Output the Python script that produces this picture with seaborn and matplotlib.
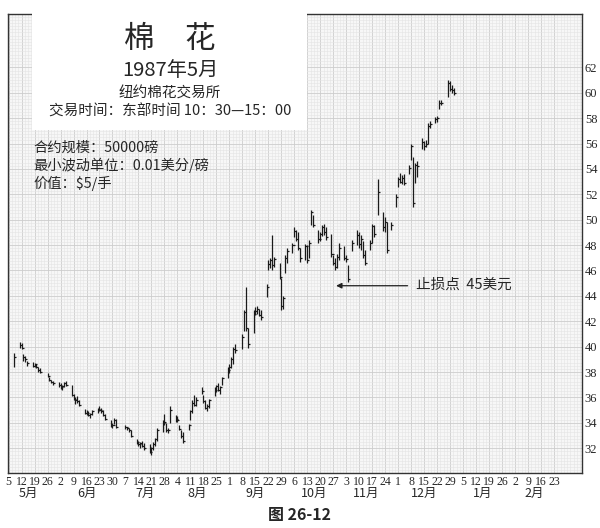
import numpy as np
import pandas as pd
import matplotlib
matplotlib.use("Agg")
import matplotlib.pyplot as plt
from matplotlib.patches import Rectangle
from matplotlib.ticker import MultipleLocator
import seaborn as sns

nan = np.nan

# daily high / low / close, one value per business day from 1987-05-05 to 1987-12-31
high = [
    # May
    nan, nan, nan, 39.5, 40.4, 40.3, 39.4, 39.3, 38.9, 38.8, 38.7, 38.6, 38.4, 38.3, nan, 37.9, 37.6, 37.4, 37.3,
    # June
    37.2, 37.1, 37.0, 37.2, 37.3, 37.0, 36.3, 36.0, 36.1, 35.8, 35.1, 35.0, 34.9, 34.8, 35.0, 35.2, 35.3, 35.2, 35.0, 34.7, 34.2, 34.0,
    # July
    34.4, 34.3, nan, nan, 33.8, 33.7, 33.6, 33.4, 32.7, 32.6, 32.5, 32.6, 32.4, 32.3, 32.1, 32.5, 32.8, 33.6, 34.2, 34.7, 34.0, 33.6, 35.3,
    # August
    34.6, 34.5, 33.8, 33.4, 33.3, 33.9, 35.0, 35.8, 36.2, 36.0, 36.8, 36.2, 35.8, 35.5, 35.9, 36.8, 37.0, 37.1, 36.9, 37.6, 38.4,
    # September
    38.6, 39.2, 40.0, 40.2, nan, 41.0, 42.9, 44.7, 41.5, 42.9, 43.1, 43.2, 43.0, 42.9, 44.9, 46.8, 47.0, 48.8, 47.1, 46.6, 45.4, 44.0,
    # October
    47.2, 47.8, 48.2, 49.4, 49.2, 49.0, 47.8, 48.1, 48.0, 48.4, 50.8, 50.4, 49.2, 49.0, 49.6, 49.7, 49.4, 48.9, 47.2, 47.0, 47.3, 48.2,
    # November
    47.9, 47.2, 46.4, nan, 48.4, 49.2, 49.0, 48.8, 48.3, 47.6, 48.4, 49.7, 49.6, nan, 53.2, 50.6, 50.2, 49.8, nan, 49.8, 52.0,
    # December
    53.4, 53.7, 53.5, 53.6, 54.3, 56.0, 54.9, 54.5, 54.6, 56.4, 56.2, 56.3, 57.6, 57.8, 58.1, 58.2, 59.4, 59.4, nan, 61.0, 60.9, 60.6, 60.4,
]
low = [
    nan, nan, nan, 38.4, 39.9, 39.8, 38.9, 38.8, 38.5, 38.4, 38.4, 38.3, 38.0, 37.9, nan, 37.6, 37.3, 37.1, 37.0,
    36.8, 36.7, 36.6, 36.8, 36.9, 36.1, 35.8, 35.5, 35.6, 35.3, 34.7, 34.6, 34.5, 34.4, 34.6, 34.8, 34.9, 34.8, 34.5, 34.2, 33.7, 33.6,
    33.9, 33.6, nan, nan, 33.5, 33.4, 33.3, 32.9, 32.3, 32.2, 32.0, 32.1, 31.9, 31.6, 31.5, 31.9, 32.2, 32.6, 33.3, 33.8, 33.3, 33.2, 34.0,
    34.1, 34.1, 33.4, 32.8, 32.4, 33.4, 34.2, 34.8, 35.3, 35.3, 36.3, 35.6, 35.1, 34.9, 35.2, 36.1, 36.4, 36.5, 36.3, 37.0, 37.5,
    37.9, 38.3, 38.6, 39.5, nan, 39.8, 41.2, 41.2, 39.9, 41.1, 42.5, 42.6, 42.4, 42.1, 43.9, 46.0, 46.2, 46.0, 46.3, 45.3, 42.9, 43.0,
    45.8, 46.6, 47.4, 48.6, 48.3, 47.6, 46.7, 46.8, 46.6, 47.0, 49.6, 49.4, 48.2, 48.3, 48.7, 48.8, 48.4, 47.1, 46.4, 46.0, 46.2, 46.8,
    46.8, 46.7, 45.1, nan, 47.5, 48.0, 47.8, 47.6, 47.0, 46.4, 47.6, 48.2, 48.6, nan, 50.4, 49.1, 49.0, 47.4, nan, 49.2, 51.0,
    52.6, 52.9, 52.8, 52.7, 53.6, 54.7, 51.0, 52.9, 53.4, 55.6, 55.5, 55.7, 56.0, 57.2, 57.6, 57.7, 58.7, 59.0, nan, 59.7, 60.1, 60.0, 59.8,
]
close = [
    nan, nan, nan, 39.2, 40.1, 39.9, 39.2, 39.0, 38.7, 38.5, 38.6, 38.4, 38.2, 38.0, nan, 37.7, 37.4, 37.2, 37.1,
    37.0, 36.8, 36.9, 37.1, 37.0, 36.2, 35.9, 35.8, 35.7, 35.4, 34.8, 34.8, 34.6, 34.7, 34.9, 35.1, 35.0, 34.9, 34.6, 34.3, 33.8, 33.8,
    34.2, 33.7, nan, nan, 33.7, 33.6, 33.4, 33.0, 32.5, 32.3, 32.4, 32.2, 32.0, 31.7, 32.0, 32.3, 32.7, 33.4, 34.0, 34.1, 33.4, 33.4, 35.0,
    34.3, 34.2, 33.5, 33.0, 32.6, 33.8, 34.9, 35.6, 35.4, 35.8, 36.5, 35.7, 35.2, 35.3, 35.8, 36.6, 36.9, 36.6, 36.8, 37.5, 38.2,
    38.4, 39.0, 39.8, 39.7, nan, 40.8, 42.7, 41.5, 40.2, 42.6, 42.8, 43.0, 42.5, 42.3, 44.7, 46.5, 46.8, 46.4, 46.9, 45.5, 43.2, 43.8,
    47.0, 47.5, 48.0, 49.1, 48.5, 47.8, 47.0, 47.9, 46.8, 48.2, 50.6, 49.6, 48.5, 48.9, 49.4, 49.0, 48.6, 47.3, 46.6, 46.3, 47.1, 47.8,
    47.0, 46.9, 45.3, nan, 48.2, 48.8, 48.1, 48.5, 47.2, 46.6, 48.2, 49.5, 48.9, nan, 52.2, 49.4, 49.8, 47.6, nan, 49.6, 51.8,
    53.2, 53.0, 53.3, 52.9, 54.1, 55.8, 51.3, 54.3, 54.2, 56.1, 55.8, 56.0, 57.4, 57.5, 57.9, 58.0, 59.2, 59.2, nan, 60.8, 60.3, 60.2, 60.0,
]

start = pd.Timestamp("1987-05-05")
days = pd.bdate_range(start, "1987-12-31")
week_ticks = pd.date_range(start, "1988-02-23", freq="W-TUE")
month_names = ["5月", "6月", "7月", "8月", "9月", "10月", "11月", "12月", "1月", "2月"]
y_ticks = list(range(32, 63, 2))

title = "棉\u3000花"
subtitle = ["1987年5月", "纽约棉花交易所", "交易时间：东部时间 10：30—15：00"]
specs = ["合约规模：50000磅", "最小波动单位：0.01美分/磅", "价值：$5/手"]
stop_price = 44.8
stop_text = "止损点  45美元"

df = pd.DataFrame({"date": days, "high": high, "low": low, "close": close})
df["x"] = (df["date"] - start).dt.days
df = df.dropna()

sns.set_theme(style="white")
plt.rcParams["font.family"] = ["Noto Sans CJK SC", "DejaVu Sans"]
serif = ["Liberation Serif", "DejaVu Serif"]

fig = plt.figure(figsize=(6, 5.28), dpi=100)
ax = fig.add_axes([8 / 600, 55 / 528, 574 / 600, 459 / 528])
ax.set_facecolor("#f7f7f7")

# graph paper grid
ax.xaxis.set_minor_locator(MultipleLocator(1.75))
ax.yaxis.set_minor_locator(MultipleLocator(0.25))
ax.grid(which="minor", color="#e4e4e4", lw=0.4)
ax.grid(which="major", color="#cdcdcd", lw=0.6)
ax.set_axisbelow(True)

# HLC bars
ax.vlines(df["x"], df["low"], df["high"], color="#1a1a1a", lw=0.9)
ax.hlines(df["close"], df["x"], df["x"] + 1.1, color="#1a1a1a", lw=0.9)

ax.set_xlim(-0.3, 309)
ax.set_ylim(30.05, 66.2)

tick_x = np.asarray((week_ticks - start).days)
ax.set_xticks(tick_x)
ax.set_xticklabels([str(d.day) for d in week_ticks], family=serif, fontsize=8.5)
ax.yaxis.tick_right()
ax.set_yticks(y_ticks)
ax.set_yticklabels([str(v) for v in y_ticks], family=serif, fontsize=9)
ax.tick_params(axis="both", which="both", length=0)
ax.tick_params(axis="x", pad=2)
ax.tick_params(axis="y", pad=2)
for s in ax.spines.values():
    s.set_color("#333333")
    s.set_linewidth(1.0)

# month labels centred under their weekly ticks
trans = ax.get_xaxis_transform()
periods = np.asarray(week_ticks.to_period("M").astype(str))
for name, per in zip(month_names, pd.unique(periods)):
    xs = tick_x[periods == per]
    ax.text(xs.mean(), -0.045, name, transform=trans, ha="center", va="center", fontsize=9)

# stop loss arrow
ax.annotate("", xy=(175, stop_price), xytext=(216.5, stop_price),
            arrowprops=dict(arrowstyle="-|>", color="#222222", lw=0.9, mutation_scale=8))
ax.text(219.5, stop_price + 0.1, stop_text, ha="left", va="center", fontsize=10.5)

# title box
fig.add_artist(Rectangle((32 / 600, 1 - 130 / 528), 275 / 600, 130 / 528,
                         transform=fig.transFigure, facecolor="white", edgecolor="none", zorder=5))
fig.text(170 / 600, 1 - 40 / 528, title, ha="center", va="center", fontsize=22, zorder=6)
fig.text(170 / 600, 1 - 71 / 528, subtitle[0], ha="center", va="center", fontsize=14.5, zorder=6)
fig.text(170 / 600, 1 - 94 / 528, subtitle[1], ha="center", va="center", fontsize=10.5, zorder=6)
fig.text(170 / 600, 1 - 112 / 528, subtitle[2], ha="center", va="center", fontsize=10.5, zorder=6)

for i, line in enumerate(specs):
    fig.text(33 / 600, 1 - (148 + 17.5 * i) / 528, line, ha="left", va="center", fontsize=10.3, zorder=6)

fig.text(0.5, 1 - 515 / 528, "图 26-12", ha="center", va="center", fontsize=11.5, weight="bold")

fig.savefig("out.png", dpi=100)
